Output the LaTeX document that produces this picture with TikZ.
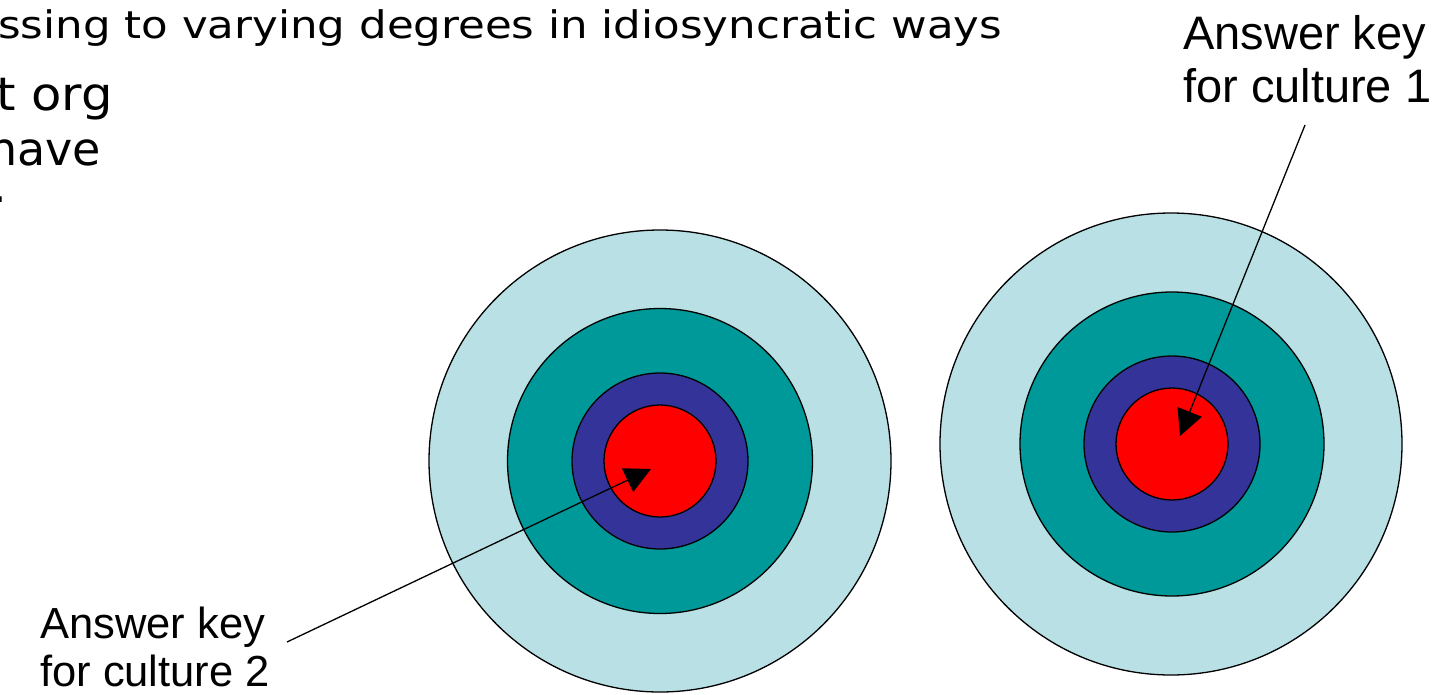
\documentclass[tikz,border=0pt]{standalone}
\usepackage{fontspec}
\setmainfont{Liberation Sans}
\newfontfamily\comicfont{DejaVu Sans}
\usetikzlibrary{arrows.meta}
\definecolor{ringA}{RGB}{185,224,228}
\definecolor{ringB}{RGB}{0,153,153}
\definecolor{ringC}{RGB}{51,51,153}
\definecolor{ringD}{RGB}{255,0,0}
\begin{document}
\begin{tikzpicture}[x=1pt,y=-1pt,
  ring/.style={circle,draw=black,line width=1.3pt,inner sep=0pt},
  arr/.style={line width=1.3pt,-{Triangle[length=26pt,width=26pt]}},
  labA/.style={align=left,inner sep=0pt,font=\fontsize{47}{53}\selectfont},
  labB/.style={align=left,inner sep=0pt,font=\fontsize{43.5}{48}\selectfont},
  sub/.style={inner sep=0pt,anchor=base west,font=\comicfont\fontsize{38}{42}\selectfont},
  main/.style={inner sep=0pt,anchor=base west,font=\comicfont\fontsize{46}{52}\selectfont}]
\useasboundingbox (0,0) rectangle (1449,694);
% top-left cut-off text
\node[sub] (t1) at (-2,38) {\scalebox{1.145}[1]{ssing to varying degrees in idiosyncratic ways}};
\node[main] (t2) at (-4,110) {\scalebox{1.08}[1]{t org}};
\node[main] (t3) at (-12,165) {have};
\node[main] (t4) at (-8,202) {.};
% left target
\node[ring,fill=ringA,minimum size=462pt] (L1) at (660,461) {};
\node[ring,fill=ringB,minimum size=305pt] (L2) at (660,461) {};
\node[ring,fill=ringC,minimum size=176pt] (L3) at (660,461) {};
\node[ring,fill=ringD,minimum size=112pt] (L4) at (660,461) {};
% right target
\node[ring,fill=ringA,minimum size=462pt] (R1) at (1171,444) {};
\node[ring,fill=ringB,minimum size=304pt] (R2) at (1172,444) {};
\node[ring,fill=ringC,minimum size=176pt] (R3) at (1172,444) {};
\node[ring,fill=ringD,minimum size=112pt] (R4) at (1172,444) {};
% labels
\node[labA,anchor=north west] (k1) at (1183,15) {Answer key\\for culture 1};
\node[labB,anchor=north west] (k2) at (40,607) {Answer key\\for culture 2};
\coordinate (s1) at (1305,125);
\coordinate (e1) at (1180,436);
\coordinate (s2) at (287,642);
\coordinate (e2) at (651,469);
\draw[arr] (s1) -- (e1);
\draw[arr] (s2) -- (e2);
\end{tikzpicture}
\end{document}
